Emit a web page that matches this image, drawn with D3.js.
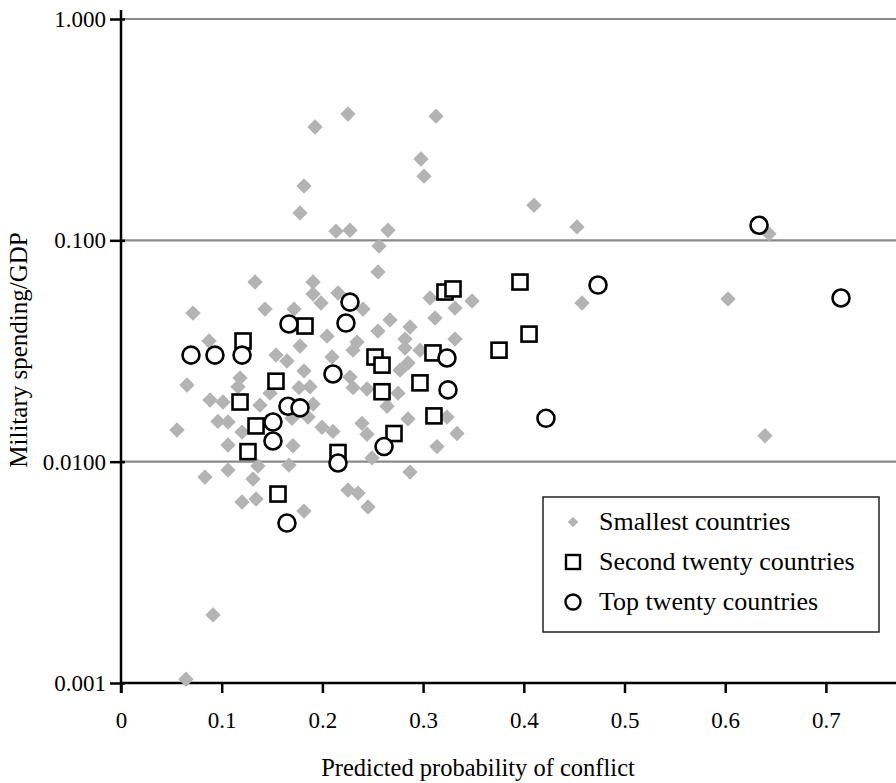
<!DOCTYPE html>
<html>
<head>
<meta charset="utf-8">
<script src="https://cdn.jsdelivr.net/npm/d3@7"></script>
<style>
  body { margin: 0; background: #fff; }
  svg text { font-family: "Liberation Serif", "Times New Roman", serif; fill: #000; }
</style>
</head>
<body>
<svg width="896" height="783"></svg>
<script>
// smallest countries: [predicted probability, military spending / GDP]
let smallest = [
  [0.1927, 0.325], [0.2254, 0.372], [0.3128, 0.364], [0.2979, 0.233], [0.3009, 0.195],
  [0.1817, 0.176], [0.1778, 0.133], [0.2135, 0.110], [0.2274, 0.111], [0.2651, 0.111],
  [0.2562, 0.0942], [0.4101, 0.144], [0.4528, 0.115], [0.6435, 0.107], [0.2552, 0.0720],
  [0.1331, 0.0648], [0.1907, 0.0648], [0.1907, 0.0572], [0.1986, 0.0521], [0.2155, 0.0578],
  [0.0715, 0.0469], [0.1430, 0.0489], [0.1718, 0.0489], [0.2403, 0.0489], [0.0874, 0.0351],
  [0.2046, 0.0369], [0.1778, 0.0333], [0.2344, 0.0347], [0.1539, 0.0303], [0.1648, 0.0285],
  [0.2095, 0.0297], [0.1817, 0.0257], [0.1182, 0.0239], [0.0655, 0.0222], [0.1162, 0.0218],
  [0.1768, 0.0216], [0.1877, 0.0218], [0.2274, 0.0241], [0.2304, 0.0216], [0.0884, 0.0190],
  [0.1013, 0.0186], [0.1380, 0.0180], [0.1480, 0.0204], [0.1907, 0.0182], [0.0556, 0.0139],
  [0.0963, 0.0152], [0.1063, 0.0151], [0.1202, 0.0136], [0.1698, 0.0157], [0.1996, 0.0143],
  [0.2105, 0.0137], [0.1063, 0.0119], [0.1708, 0.0118], [0.0834, 0.00852], [0.1063, 0.00916],
  [0.1360, 0.00955], [0.1311, 0.00835], [0.1668, 0.00965], [0.1202, 0.00657], [0.1341, 0.00678],
  [0.1817, 0.00598], [0.2254, 0.00744], [0.2354, 0.00721], [0.2453, 0.00624], [0.2870, 0.00897],
  [0.3138, 0.0117], [0.3337, 0.0134], [0.3237, 0.0159], [0.2850, 0.0156], [0.2393, 0.0149],
  [0.2443, 0.0133], [0.2642, 0.0178], [0.2751, 0.0204], [0.2443, 0.0213], [0.2771, 0.0259],
  [0.2850, 0.0279], [0.2820, 0.0326], [0.2969, 0.0319], [0.2820, 0.0358], [0.3317, 0.0358],
  [0.2552, 0.0389], [0.2870, 0.0406], [0.2671, 0.0437], [0.3118, 0.0446], [0.3317, 0.0494],
  [0.3069, 0.0549], [0.3486, 0.0532], [0.2304, 0.0319], [0.2493, 0.0104], [0.0914, 0.00203],
  [0.0645, 0.00104], [0.4578, 0.0521], [0.6028, 0.0543], [0.6395, 0.0131], [0.1857, 0.0159]
];

let secondTwenty = [
  [0.1212, 0.0351], [0.1539, 0.0231], [0.1182, 0.0186], [0.1341, 0.0145], [0.1261, 0.0111],
  [0.1559, 0.00714], [0.1827, 0.0410], [0.2522, 0.0297], [0.2592, 0.0273], [0.2592, 0.0207],
  [0.3098, 0.0310], [0.2969, 0.0227], [0.3108, 0.0161], [0.2711, 0.0134], [0.2155, 0.0110],
  [0.3217, 0.0584], [0.3297, 0.0603], [0.3962, 0.0648], [0.4052, 0.0377], [0.3754, 0.0319]
];

let topTwenty = [
  [0.0695, 0.0303], [0.0933, 0.0303], [0.1202, 0.0303], [0.1668, 0.0419], [0.2234, 0.0423],
  [0.2274, 0.0526], [0.2105, 0.0249], [0.3237, 0.0294], [0.3247, 0.0211], [0.1509, 0.0151],
  [0.1658, 0.0178], [0.1778, 0.0175], [0.1509, 0.0124], [0.2155, 0.00986], [0.2612, 0.0117],
  [0.1648, 0.00528], [0.4220, 0.0157], [0.4737, 0.0628], [0.6336, 0.117], [0.7150, 0.0549]
];

let xTicks = [0, 0.1, 0.2, 0.3, 0.4, 0.5, 0.6, 0.7];
let xTickLabels = ["0", "0.1", "0.2", "0.3", "0.4", "0.5", "0.6", "0.7"];
let yTicks = [0.001, 0.01, 0.1, 1];
let yTickLabels = ["0.001", "0.0100", "0.100", "1.000"];
let legendNames = ["Smallest countries", "Second twenty countries", "Top twenty countries"];

let svg = d3.select("svg");
let grey = "#b3b3b3";

let x = d3.scaleLinear().domain([0, 0.77]).range([121, 896.4]);
let y = d3.scaleLog().domain([0.001, 1]).range([683, 19]);

// gridlines
svg.append("g")
  .selectAll("line")
  .data(yTicks.slice(1))
  .enter()
  .append("line")
  .attr("x1", x(0))
  .attr("x2", 896)
  .attr("y1", d => y(d))
  .attr("y2", d => y(d))
  .attr("stroke", "#8a8a8a")
  .attr("stroke-width", 2.2);

// y axis
let yAxis = svg.append("g")
  .attr("transform", "translate(" + x(0) + ",0)")
  .call(d3.axisLeft(y).tickValues(yTicks).tickFormat((d, i) => yTickLabels[i]).tickSizeInner(11).tickSizeOuter(0).tickPadding(4));
yAxis.select(".domain").remove();
yAxis.append("line").attr("y1", 10).attr("y2", 693).attr("stroke", "#000").attr("stroke-width", 2.5);
yAxis.selectAll(".tick line").attr("x2", 4).attr("x1", -11).attr("stroke-width", 2.5);
yAxis.selectAll("text").style("font-size", "23px");

// x axis
let xAxis = svg.append("g")
  .attr("transform", "translate(0," + y(0.001) + ")")
  .call(d3.axisBottom(x).tickValues(xTicks).tickFormat((d, i) => xTickLabels[i]).tickSizeInner(10).tickSizeOuter(0).tickPadding(19));
xAxis.select(".domain").attr("stroke-width", 2.5).attr("d", "M121,0H896");
xAxis.selectAll(".tick line").attr("stroke-width", 2.5);
xAxis.selectAll("text").style("font-size", "23px");

// axis titles
svg.append("text")
  .attr("x", 478)
  .attr("y", 776)
  .attr("text-anchor", "middle")
  .style("font-size", "24.5px")
  .text("Predicted probability of conflict");

svg.append("text")
  .attr("transform", "translate(27,350) rotate(-90)")
  .attr("text-anchor", "middle")
  .style("font-size", "25px")
  .text("Military spending/GDP");

let diamond = d3.symbol().type(d3.symbolSquare).size(118);

// smallest countries
svg.append("g")
  .selectAll("path")
  .data(smallest)
  .enter()
  .append("path")
  .attr("d", diamond)
  .attr("transform", d => "translate(" + x(d[0]) + "," + y(d[1]) + ") rotate(45)")
  .attr("fill", grey);

// second twenty
svg.append("g")
  .selectAll("rect")
  .data(secondTwenty)
  .enter()
  .append("rect")
  .attr("x", d => x(d[0]) - 7.5)
  .attr("y", d => y(d[1]) - 7.5)
  .attr("width", 15)
  .attr("height", 15)
  .attr("fill", "#fff")
  .attr("stroke", "#000")
  .attr("stroke-width", 2.6);

// top twenty
svg.append("g")
  .selectAll("circle")
  .data(topTwenty)
  .enter()
  .append("circle")
  .attr("cx", d => x(d[0]))
  .attr("cy", d => y(d[1]))
  .attr("r", 8.5)
  .attr("fill", "#fff")
  .attr("stroke", "#000")
  .attr("stroke-width", 2.6);

// legend
let legend = svg.append("g").attr("transform", "translate(543,497)");
legend.append("rect")
  .attr("width", 336)
  .attr("height", 135)
  .attr("fill", "#fff")
  .attr("stroke", "#222")
  .attr("stroke-width", 1.5);

let rows = legend.selectAll(".row")
  .data(legendNames)
  .enter()
  .append("g")
  .attr("class", "row")
  .attr("transform", (d, i) => "translate(30," + (25 + i * 40) + ")");

rows.filter((d, i) => i == 0).append("path")
  .attr("d", d3.symbol().type(d3.symbolSquare).size(55))
  .attr("transform", "rotate(45)")
  .attr("fill", grey);
rows.filter((d, i) => i == 1).append("rect")
  .attr("x", -7).attr("y", -7).attr("width", 14).attr("height", 14)
  .attr("fill", "#fff").attr("stroke", "#000").attr("stroke-width", 2.4);
rows.filter((d, i) => i == 2).append("circle")
  .attr("r", 7.5)
  .attr("fill", "#fff").attr("stroke", "#000").attr("stroke-width", 2.4);

rows.append("text")
  .attr("x", 26)
  .attr("y", 8)
  .style("font-size", "26px")
  .text(d => d);
</script>
</body>
</html>
